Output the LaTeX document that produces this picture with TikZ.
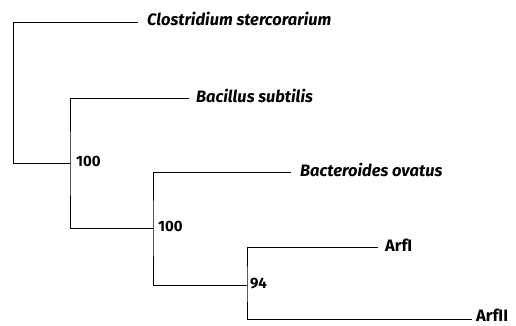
\documentclass[tikz,border=0pt]{standalone}
\usepackage{fontspec}
\setmainfont{Fira Sans}
\begin{document}
\begin{tikzpicture}[x=1pt,y=-1pt,
  br/.style={line width=0.9pt},
  lab/.style={anchor=base west,inner sep=0pt,font=\fontsize{16.5}{18}\selectfont\bfseries},
  taxon/.style={lab,font=\fontsize{16.5}{18}\selectfont\bfseries\itshape},
  boot/.style={anchor=base west,inner sep=0pt,font=\fontsize{15}{16}\selectfont\bfseries}]
\useasboundingbox (0,0) rectangle (516,325);
% tips (end of branches)
\coordinate (t1) at (138,22.5);
\coordinate (t2) at (189,98.3);
\coordinate (t3) at (291,172.7);
\coordinate (t4) at (378,247.5);
\coordinate (t5) at (472,319);
% tip labels
\node[taxon] (clo) at (147,25.5) {Clostridium stercorarium};
\node[taxon] (bac) at (196,102) {Bacillus subtilis};
\node[taxon] (bov) at (300,176.5) {Bacteroides ovatus};
\node[lab] (a1) at (385,251) {ArfI};
\node[lab] (a2) at (476,321.5) {ArfII};
% internal nodes
\coordinate (n0) at (13,163.5);
\coordinate (n1) at (70,163.5);
\coordinate (n2) at (153,228);
\coordinate (n3) at (247,285);
% branches
\draw[br] (t1) -| (n0) -- (n1);
\draw[br] (t2) -| (n1) |- (n2);
\draw[br] (t3) -| (n2) |- (n3);
\draw[br] (t4) -| (n3) |- (t5);
% bootstrap values
\node[boot] (b1) at (76,166.5) {100};
\node[boot] (b2) at (158,231.5) {100};
\node[boot] (b3) at (250,288.5) {94};
\end{tikzpicture}
\end{document}
